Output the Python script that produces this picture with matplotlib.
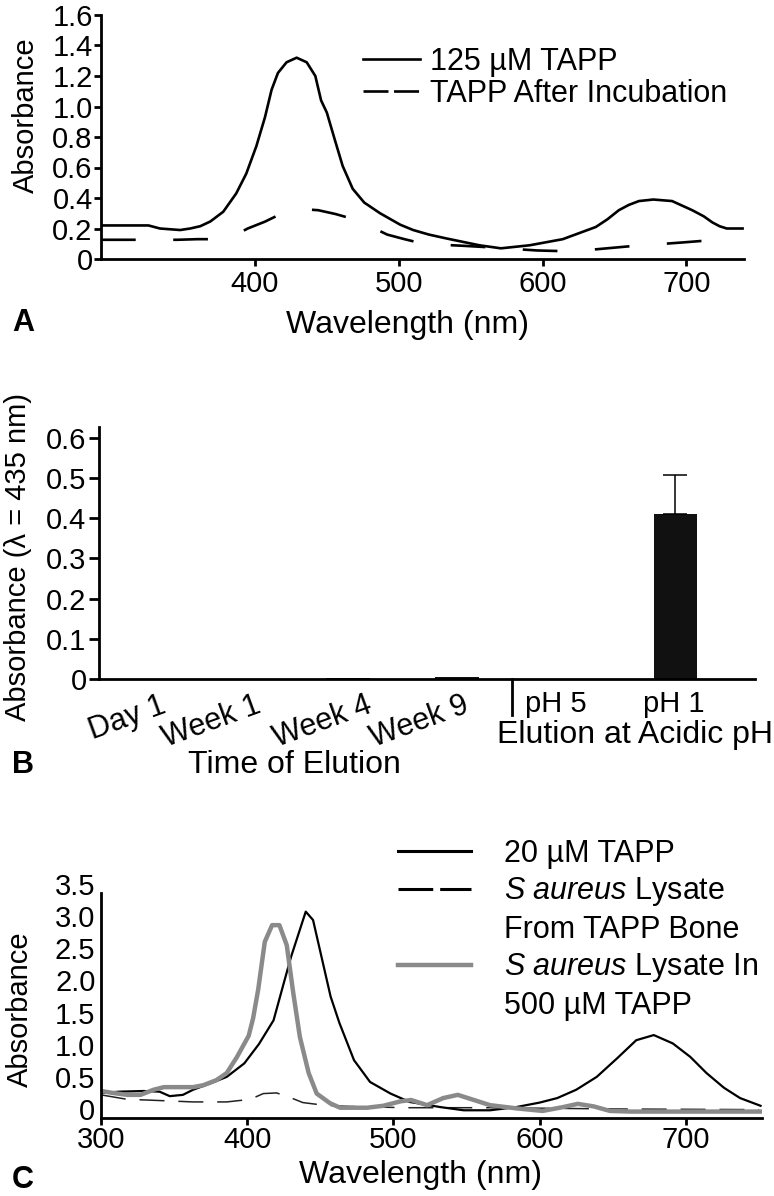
import matplotlib
matplotlib.use('Agg')
import matplotlib.pyplot as plt
import matplotlib.transforms as mtransforms
from matplotlib.lines import Line2D
import numpy as np

plt.rcParams['font.family'] = ['Liberation Sans', 'DejaVu Sans']
plt.rcParams['mathtext.fontset'] = 'custom'
plt.rcParams['mathtext.rm'] = 'Liberation Sans'
plt.rcParams['mathtext.it'] = 'Liberation Sans:italic'
plt.rcParams['lines.scale_dashes'] = False
plt.rcParams['axes.linewidth'] = 2.0

# --- panel A: 125 uM TAPP spectrum, before / after incubation
a_wl = [293, 300, 326, 334, 348, 355, 362, 369, 378, 387, 394, 401, 407, 411.6, 416, 422,
        429, 436, 442, 446, 450, 455.6, 461, 468, 476, 487, 501, 510, 521, 533, 556,
        571, 591, 614, 637, 645, 653, 660, 667, 677, 690, 704, 712, 718, 723, 728, 733, 739]
a_tapp = [0.22, 0.22, 0.22, 0.20, 0.19, 0.20, 0.215, 0.246, 0.31, 0.43, 0.56, 0.74, 0.93, 1.11, 1.22, 1.29,
          1.32, 1.29, 1.20, 1.04, 0.96, 0.78, 0.61, 0.46, 0.37, 0.30, 0.225, 0.19, 0.16, 0.135, 0.09,
          0.07, 0.09, 0.13, 0.21, 0.26, 0.32, 0.355, 0.38, 0.39, 0.38, 0.32, 0.28, 0.24, 0.215, 0.20, 0.20, 0.20]
a_wl_inc = [293, 318, 346, 360, 371, 385, 395, 407, 419, 428, 436, 444, 456, 469, 481,
            492, 504, 517, 530, 544, 557, 570, 583, 596, 608, 620, 633, 647, 660, 672,
            685, 698, 710, 723]
a_inc = [0.126, 0.126, 0.126, 0.13, 0.13, 0.15, 0.20, 0.245, 0.30, 0.318, 0.325, 0.32, 0.295, 0.26, 0.21,
         0.16, 0.13, 0.10, 0.093, 0.087, 0.08, 0.072, 0.064, 0.056, 0.053, 0.05, 0.06, 0.072, 0.083, 0.094,
         0.10, 0.109, 0.118, 0.126]

# --- panel B: elution at 435 nm
b_cats = ['Day 1', 'Week 1', 'Week 4', 'Week 9', 'pH 5', 'pH 1']
b_vals = [0.001, 0.001, 0.003, 0.004, 0.001, 0.41]
b_err = [0, 0, 0, 0, 0, 0.097]

# --- panel C: lysate spectra
c_wl = [300, 313, 329, 340, 347, 356, 363, 375, 386, 398, 408, 418, 425, 430, 440, 445,
        457, 463, 473, 484, 498, 511, 532, 548, 566, 584, 600, 612, 625, 639, 653, 666,
        678, 691, 703, 714, 726, 737, 751]
c_tapp = [0.39, 0.41, 0.42, 0.41, 0.34, 0.36, 0.44, 0.54, 0.64, 0.85, 1.15, 1.52, 2.10, 2.51, 3.21, 3.08,
          1.89, 1.48, 0.90, 0.56, 0.38, 0.25, 0.17, 0.12, 0.12, 0.17, 0.24, 0.31, 0.44, 0.64, 0.93, 1.21,
          1.29, 1.16, 0.95, 0.70, 0.47, 0.31, 0.19]
c_wl_bone = [300, 318, 331, 363, 386, 402, 411, 420, 427, 438, 452, 470, 509, 566, 655, 750]
c_bone = [0.36, 0.29, 0.28, 0.25, 0.25, 0.29, 0.38, 0.39, 0.34, 0.24, 0.20, 0.18, 0.16, 0.16, 0.14, 0.13]
c_wl_lys = [300, 308, 318, 327, 336, 343, 363, 370, 379, 386, 393, 401, 404, 407.5, 412, 417, 422,
            427, 431.5, 436, 442, 447.5, 456.6, 463.5, 482, 493, 505, 512, 523, 534, 544, 555,
            566, 584, 602, 616, 626, 637, 648, 662, 752]
c_lys = [0.42, 0.39, 0.36, 0.36, 0.44, 0.48, 0.48, 0.51, 0.59, 0.70, 0.95, 1.28, 1.55, 2.00, 2.74, 3.00, 3.00,
         2.69, 1.94, 1.26, 0.70, 0.38, 0.23, 0.16, 0.16, 0.19, 0.26, 0.28, 0.20, 0.31, 0.36, 0.28,
         0.20, 0.15, 0.11, 0.17, 0.22, 0.18, 0.11, 0.10, 0.10]

W, H = 774, 1196
fig = plt.figure(figsize=(W / 100, H / 100), dpi=100)


def px_axes(l, t, r, b):
    return fig.add_axes([l / W, 1 - b / H, (r - l) / W, (b - t) / H])


def clean(ax):
    ax.spines['top'].set_visible(False)
    ax.spines['right'].set_visible(False)


def shift(lbl, dx, dy):
    lbl.set_transform(lbl.get_transform() +
                      mtransforms.ScaledTranslation(dx / 100, dy / 100, fig.dpi_scale_trans))


# Panel A
axA = px_axes(101, 15, 744, 259)
clean(axA)
axA.plot(a_wl, a_tapp, color='black', lw=1.9)
axA.plot(a_wl_inc, a_inc, color='black', lw=1.9, dashes=(25, 27))
axA.set_xlim(293, 740)
axA.set_ylim(0, 1.6)
axA.set_xticks([400, 500, 600, 700])
yt = np.arange(0, 1.61, 0.2)
axA.set_yticks(yt, ['0'] + ['%.1f' % v for v in yt[1:]])
axA.tick_params(axis='both', direction='out', length=5, width=2, labelsize=21)
axA.tick_params(axis='y', pad=1)
axA.tick_params(axis='x', pad=3)
axA.set_xlabel('Wavelength (nm)', fontsize=23, va='center')
axA.xaxis.set_label_coords(0.476, -0.27)
axA.set_ylabel('Absorbance', fontsize=21, va='center')
axA.yaxis.set_label_coords(-0.117, 0.59)
hA = [Line2D([], [], color='black', lw=1.9),
      Line2D([], [], color='black', lw=1.9, dashes=(18, 4))]
axA.legend(hA, ['125 µM TAPP', 'TAPP After Incubation'], loc='upper left',
           bbox_to_anchor=(363 / W, 1 - 47 / H), bbox_transform=fig.transFigure,
           frameon=False, fontsize=22, handlelength=1.85, handletextpad=0.33,
           labelspacing=0.05, borderpad=0, borderaxespad=0)
fig.text(12 / W, 1 - 323 / H, 'A', fontsize=22, fontweight='bold', va='center')

# Panel B
axB = px_axes(99, 427, 755, 679)
clean(axB)
x = np.arange(len(b_cats))
axB.bar(x, b_vals, width=0.4, color='#111111')
idx = [i for i, e in enumerate(b_err) if e > 0]
axB.errorbar(x[idx], [b_vals[i] for i in idx],
             yerr=[[0] * len(idx), [b_err[i] for i in idx]],
             fmt='none', ecolor='black', elinewidth=1.1, capsize=8.5, capthick=1.1)
axB.set_xlim(-0.284, 5.73)
axB.set_ylim(0, 0.627)
ybt = np.arange(0, 0.61, 0.1)
axB.set_yticks(ybt, ['0'] + ['%.1f' % v for v in ybt[1:]])
axB.tick_params(axis='y', direction='out', length=7, width=2, labelsize=21, pad=2)
axB.set_xticks(x, b_cats)
axB.tick_params(axis='x', length=0, labelsize=21, pad=8)
label_dx = [30, 16, 17, 5, -10, -2]
for lbl, dx, i in zip(axB.get_xticklabels(), label_dx, x):
    if i < 4:
        lbl.set_rotation(20)
        lbl.set_rotation_mode('anchor')
        lbl.set_ha('right')
        lbl.set_va('top')
        lbl.set_fontsize(22)
    shift(lbl, dx, 0)
axB.axvline(3.5, ymin=-0.143, ymax=0, clip_on=False, color='black', lw=2)
axB.set_ylabel('Absorbance (λ = 435 nm)', fontsize=21, va='center')
axB.yaxis.set_label_coords(-0.123, 0.484)
fig.text(294 / W, 1 - 765 / H, 'Time of Elution', fontsize=23, ha='center', va='center')
fig.text(635 / W, 1 - 735 / H, 'Elution at Acidic pH', fontsize=23, ha='center', va='center')
fig.text(12 / W, 1 - 765 / H, 'B', fontsize=22, fontweight='bold', va='center')

# Panel C
axC = px_axes(101, 893, 762, 1118)
clean(axC)
axC.plot(c_wl_bone, c_bone, color='#222222', lw=1.1, dashes=(18, 10))
axC.plot(c_wl, c_tapp, color='black', lw=1.6)
axC.plot(c_wl_lys, c_lys, color='#8a8a8a', lw=3.2)
axC.set_xlim(300, 752)
axC.set_ylim(0, 3.5)
axC.set_xticks([300, 400, 500, 600, 700])
yct = np.arange(0, 3.51, 0.5)
axC.set_yticks(yct, ['0'] + ['%.1f' % v for v in yct[1:]])
axC.tick_params(axis='y', length=0, labelsize=21, pad=4)
axC.tick_params(axis='x', direction='out', length=5, width=2, labelsize=21, pad=1)
for lbl in axC.get_yticklabels():
    shift(lbl, 0, 9)
axC.set_xlabel('Wavelength (nm)', fontsize=23, va='center')
axC.xaxis.set_label_coords(0.483, -0.253)
axC.set_ylabel('Absorbance', fontsize=21, va='center')
axC.yaxis.set_label_coords(-0.1225, 0.484)
blank = Line2D([], [], lw=0, color='none')
hC = [Line2D([], [], color='black', lw=2.2),
      Line2D([], [], color='black', lw=2.2, dashes=(25, 5)),
      blank,
      Line2D([], [], color='#8a8a8a', lw=3.2),
      blank]
lC = ['20 µM TAPP', r'$\mathit{S\ aureus}$ Lysate', 'From TAPP Bone',
      r'$\mathit{S\ aureus}$ Lysate In', '500 µM TAPP']
axC.legend(hC, lC, loc='upper left', bbox_to_anchor=(398 / W, 1 - 839 / H),
           bbox_transform=fig.transFigure, frameon=False, fontsize=22,
           handlelength=2.4, handletextpad=1.08, labelspacing=0.21,
           borderpad=0, borderaxespad=0)
fig.text(12 / W, 1 - 1180 / H, 'C', fontsize=22, fontweight='bold', va='center')

fig.savefig('out.png', dpi=100)
